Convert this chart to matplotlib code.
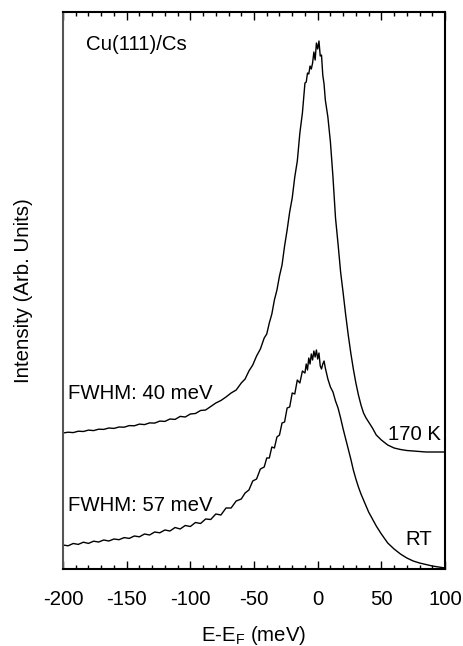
import matplotlib
matplotlib.use("Agg")
import matplotlib.pyplot as plt
from matplotlib.ticker import MultipleLocator

plt.rcParams['font.family'] = ['Liberation Sans', 'DejaVu Sans']
plt.rcParams['mathtext.fontset'] = 'custom'
plt.rcParams['mathtext.rm'] = 'Liberation Sans'
plt.rcParams['axes.unicode_minus'] = False

# spectrum taken at 170 K (energy in meV, intensity in arb. units)
energy_170k = [-200, -196, -192, -188, -184, -180, -176, -172, -168, -164,
               -160, -156, -152, -148, -144, -140, -136, -132, -128, -124,
               -120, -116, -112, -108, -104, -100, -96, -92, -88, -84,
               -80, -76, -72, -68, -64, -60, -57, -54, -51, -48,
               -45, -42, -40, -38, -36, -34, -32, -30, -28, -26,
               -24, -22, -20, -18, -16, -14, -12, -10, -9, -8,
               -7, -6, -5, -4, -3, -2, -1, 0, 1, 2,
               3, 4, 5, 6, 8, 10, 12, 14, 16, 18,
               20, 22, 24, 26, 28, 30, 32, 34, 36, 38,
               40, 43, 46, 50, 55, 60, 65, 70, 75, 80,
               85, 90, 95, 100]
intens_170k = [136, 136.8, 136.4, 137.8, 137.5, 138.9, 138.4, 139.8, 139.6, 141,
               140.6, 142, 141.8, 143.4, 143.2, 144.9, 144.4, 146.1, 145.9, 147.9,
               147.6, 150, 149.6, 152.6, 152, 155, 155.5, 158.5, 159, 162.5,
               166, 168.5, 172, 176, 179, 186, 190, 198, 204, 213,
               220, 231, 235, 246, 255, 269, 279, 293, 304, 323,
               339, 357, 371, 392, 408, 436, 456, 486, 487, 496,
               495, 503, 500, 506, 517, 509, 526, 520, 528, 513,
               514, 494, 485, 469, 452, 427, 392, 351, 325, 297,
               276, 254, 234, 216, 200, 186, 174, 164, 156, 151,
               147, 141, 134, 129, 124, 121, 119.5, 118.5, 118, 117.5,
               117, 117, 117, 117]

# spectrum taken at room temperature
energy_rt = [-200, -196, -192, -188, -184, -180, -176, -172, -168, -164,
             -160, -156, -152, -148, -144, -140, -136, -132, -128, -124,
             -120, -116, -112, -108, -104, -100, -96, -92, -88, -84,
             -80, -76, -72, -68, -64, -60, -57, -54, -51, -48,
             -45, -42, -40, -38, -36, -34, -32, -30, -28, -26,
             -24, -22, -20, -18, -16, -14, -12, -10, -9, -8,
             -7, -6, -5, -4, -3, -2, -1, 0, 1, 2,
             3, 4, 5, 6, 8, 10, 12, 14, 16, 18,
             20, 22, 24, 26, 28, 30, 32, 34, 36, 38,
             40, 43, 46, 50, 55, 60, 65, 70, 75, 80,
             85, 90, 95, 100]
intens_rt = [24, 23.2, 25.5, 24.6, 26.8, 25.6, 27.8, 27, 29, 28,
             30, 29.3, 31.4, 30.6, 33, 32.2, 35, 34, 37, 36.2,
             39, 38, 41.5, 40, 43.5, 42.5, 46.5, 45.5, 50, 49.5,
             55, 54, 61, 61, 68, 70, 76, 79, 88, 90,
             100, 102, 111, 111, 122, 121, 132, 134, 146, 147,
             161, 162, 176, 175, 189, 186, 198, 196, 205, 199,
             211, 205, 215, 209, 218, 212, 219, 210, 216, 203,
             200, 205, 208, 201, 190, 182, 177, 168, 161, 151,
             140, 130, 120, 110, 99, 90, 82, 75, 69, 63,
             57, 50, 43, 35, 26, 20, 15, 11, 8, 6,
             4.5, 3, 2, 1]

labels = ['Cu(111)/Cs', 'FWHM: 40 meV', 'FWHM: 57 meV', '170 K', 'RT']

fig = plt.figure(figsize=(4.64, 6.46), dpi=100)
ax = fig.add_axes([0.1358, 0.1192, 0.8233, 0.8622])

ax.plot(energy_170k, intens_170k, color='black', lw=1.0)
ax.plot(energy_rt, intens_rt, color='black', lw=1.0)

ax.set_xlim(-200, 100)
ax.set_ylim(0, 557)

ax.xaxis.set_major_locator(MultipleLocator(50))
ax.xaxis.set_minor_locator(MultipleLocator(10))
ax.tick_params(axis='x', which='both', direction='in', top=True, bottom=True,
               labelsize=14.7, pad=15, width=1.0)
ax.tick_params(axis='x', which='major', length=6)
ax.tick_params(axis='x', which='minor', length=3)
ax.tick_params(axis='y', which='both', left=False, right=False, labelleft=False)

for side in ['top', 'right', 'bottom']:
    ax.spines[side].set_linewidth(1.5)
ax.spines['left'].set_linewidth(1.5)
ax.spines['left'].set_color('#555555')

ax.set_xlabel('E-E$_{\\mathrm{F}}$ (meV)', fontsize=14.7, labelpad=11)
ax.set_ylabel('Intensity (Arb. Units)', fontsize=14.7)
ax.yaxis.set_label_coords(-0.078, 0.5)

ax.text(-182, 525, labels[0], fontsize=14.7, ha='left', va='center')
ax.text(-196, 176, labels[1], fontsize=14.7, ha='left', va='center')
ax.text(-196, 63, labels[2], fontsize=14.7, ha='left', va='center')
ax.text(55, 135, labels[3], fontsize=14.7, ha='left', va='center')
ax.text(69, 29, labels[4], fontsize=14.7, ha='left', va='center')

fig.savefig('out.png', dpi=100)
